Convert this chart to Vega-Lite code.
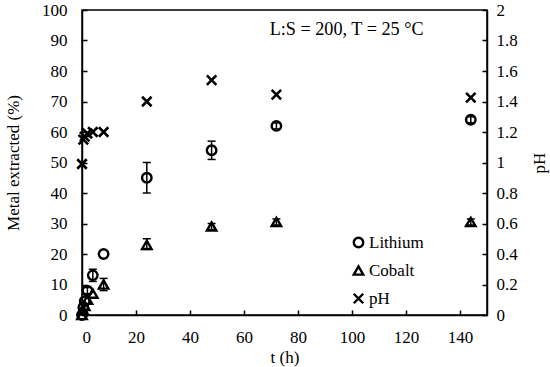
{
  "$schema": "https://vega.github.io/schema/vega-lite/v6.json",
  "width": 405,
  "height": 305,
  "autosize": {"type": "none"},
  "padding": {"left": 82, "top": 10, "right": 63, "bottom": 52},
  "background": "white",
  "config": {
    "font": "Liberation Serif",
    "view": {"stroke": "black", "strokeWidth": 1.5},
    "axis": {
      "grid": false,
      "domainColor": "black",
      "domainWidth": 1.5,
      "tickColor": "black",
      "tickWidth": 1.5,
      "tickSize": -5,
      "labelFont": "Liberation Serif",
      "labelFontSize": 17,
      "labelColor": "black",
      "titleFont": "Liberation Serif",
      "titleFontSize": 17,
      "titleFontWeight": "normal",
      "titleColor": "black"
    },
    "legend": {
      "labelFont": "Liberation Serif",
      "labelFontSize": 17,
      "labelColor": "black"
    }
  },
  "data": {
    "values": [
      {"t": 0, "series": "Lithium", "value": 0},
      {"t": 0.5, "series": "Lithium", "value": 2.5},
      {"t": 1, "series": "Lithium", "value": 4.5},
      {"t": 2, "series": "Lithium", "value": 8, "lo": 7, "hi": 9},
      {"t": 4, "series": "Lithium", "value": 13, "lo": 11, "hi": 15},
      {"t": 8, "series": "Lithium", "value": 20},
      {"t": 24, "series": "Lithium", "value": 45, "lo": 40, "hi": 50},
      {"t": 48, "series": "Lithium", "value": 54, "lo": 51, "hi": 57},
      {"t": 72, "series": "Lithium", "value": 62, "lo": 61, "hi": 63},
      {"t": 144, "series": "Lithium", "value": 64, "lo": 63, "hi": 65},
      {"t": 0, "series": "Cobalt", "value": 0},
      {"t": 0.5, "series": "Cobalt", "value": 1.5},
      {"t": 1, "series": "Cobalt", "value": 3},
      {"t": 2, "series": "Cobalt", "value": 5},
      {"t": 4, "series": "Cobalt", "value": 7},
      {"t": 8, "series": "Cobalt", "value": 10, "lo": 8, "hi": 12},
      {"t": 24, "series": "Cobalt", "value": 23, "lo": 21.5, "hi": 25},
      {"t": 48, "series": "Cobalt", "value": 29, "lo": 28, "hi": 30},
      {"t": 72, "series": "Cobalt", "value": 30.5, "lo": 29.5, "hi": 31.5},
      {"t": 144, "series": "Cobalt", "value": 30.5, "lo": 29.5, "hi": 31.5},
      {"t": 0, "series": "pH", "value": 0.99},
      {"t": 0.5, "series": "pH", "value": 1.15},
      {"t": 1, "series": "pH", "value": 1.17},
      {"t": 2, "series": "pH", "value": 1.19},
      {"t": 4, "series": "pH", "value": 1.2},
      {"t": 8, "series": "pH", "value": 1.2},
      {"t": 24, "series": "pH", "value": 1.4},
      {"t": 48, "series": "pH", "value": 1.54},
      {"t": 72, "series": "pH", "value": 1.445},
      {"t": 144, "series": "pH", "value": 1.425}
    ]
  },
  "encoding": {
    "x": {"field": "t", "type": "quantitative", "scale": {"domain": [0, 150], "nice": false, "zero": false, "padding": 0},
      "axis": {"values": [0, 20, 40, 60, 80, 100, 120, 140], "title": "t (h)", "labelPadding": 19, "titlePadding": 4}}
  },
  "layer": [
    {
      "layer": [
        {
          "transform": [{"filter": "datum.series !== 'pH' && isValid(datum.lo)"}],
          "mark": {"type": "rule", "color": "black", "strokeWidth": 1.5},
          "encoding": {
            "y": {"field": "lo", "type": "quantitative", "scale": {"domain": [0, 100], "nice": false, "padding": 0},
              "axis": {"values": [0, 10, 20, 30, 40, 50, 60, 70, 80, 90, 100], "title": "Metal extracted (%)", "labelPadding": 20, "titlePadding": 19}},
            "y2": {"field": "hi"}
          }
        },
        {
          "transform": [{"filter": "datum.series !== 'pH' && isValid(datum.lo)"}],
          "mark": {"type": "point", "shape": "stroke", "color": "black", "strokeWidth": 1.5, "size": 64, "opacity": 1},
          "encoding": {
            "y": {"field": "lo", "type": "quantitative",
              "axis": {"values": [0, 10, 20, 30, 40, 50, 60, 70, 80, 90, 100], "title": "Metal extracted (%)", "labelPadding": 20, "titlePadding": 19}}
          }
        },
        {
          "transform": [{"filter": "datum.series !== 'pH' && isValid(datum.lo)"}],
          "mark": {"type": "point", "shape": "stroke", "color": "black", "strokeWidth": 1.5, "size": 64, "opacity": 1},
          "encoding": {
            "y": {"field": "hi", "type": "quantitative",
              "axis": {"values": [0, 10, 20, 30, 40, 50, 60, 70, 80, 90, 100], "title": "Metal extracted (%)", "labelPadding": 20, "titlePadding": 19}}
          }
        },
        {
          "transform": [{"filter": "datum.series !== 'pH'"}],
          "mark": {"type": "point", "filled": false, "strokeWidth": 2.4, "size": 90, "color": "black", "opacity": 1},
          "encoding": {
            "y": {"field": "value", "type": "quantitative",
              "axis": {"values": [0, 10, 20, 30, 40, 50, 60, 70, 80, 90, 100], "title": "Metal extracted (%)", "labelPadding": 20, "titlePadding": 19}},
            "shape": {"field": "series", "type": "nominal",
              "scale": {"domain": ["Lithium", "Cobalt", "pH"], "range": ["circle", "triangle-up", "M-1,-1L1,1M-1,1L1,-1"]},
              "legend": {"title": null, "orient": "none", "legendX": 268, "legendY": 224, "symbolStrokeColor": "black", "symbolFillColor": "transparent", "symbolStrokeWidth": 2.4, "symbolSize": 90, "symbolOpacity": 1, "rowPadding": 8, "labelOffset": 2}}
          }
        },
        {
          "data": {"values": [{"t": 98, "value": 93.5, "label": "L:S = 200, T = 25 °C"}]},
          "mark": {"type": "text", "font": "Liberation Serif", "fontSize": 18.2, "color": "black", "baseline": "middle", "align": "center"},
          "encoding": {
            "y": {"field": "value", "type": "quantitative",
              "axis": {"values": [0, 10, 20, 30, 40, 50, 60, 70, 80, 90, 100], "title": "Metal extracted (%)", "labelPadding": 20, "titlePadding": 19}},
            "text": {"field": "label"}
          }
        }
      ]
    },
    {
      "transform": [{"filter": "datum.series === 'pH'"}],
      "mark": {"type": "point", "filled": false, "strokeWidth": 2.6, "size": 90, "color": "black", "opacity": 1},
      "encoding": {
        "y": {"field": "value", "type": "quantitative", "scale": {"domain": [0, 2], "nice": false},
          "axis": {"orient": "right", "values": [0, 0.2, 0.4, 0.6, 0.8, 1, 1.2, 1.4, 1.6, 1.8, 2], "format": ".1~f", "title": "pH", "titleAngle": 270, "titleBaseline": "top", "labelPadding": 14, "titlePadding": 14}},
        "shape": {"field": "series", "type": "nominal"}
      }
    }
  ],
  "resolve": {"scale": {"y": "independent"}}
}
